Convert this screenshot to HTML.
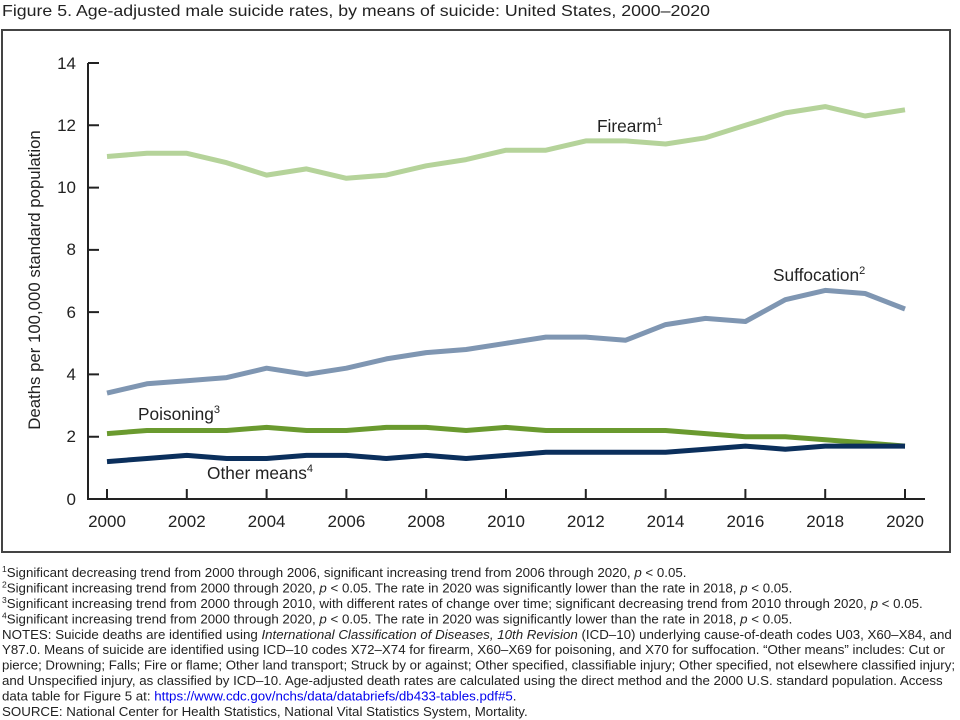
<!DOCTYPE html>
<html><head><meta charset="utf-8"><style>
html,body{margin:0;padding:0;background:#fff;}
svg{display:block;font-family:"Liberation Sans",Arial,sans-serif;}
</style></head><body>
<svg width="960" height="720" viewBox="0 0 960 720" xmlns="http://www.w3.org/2000/svg">
<text x="2" y="16" font-size="16" fill="#222" textLength="708" lengthAdjust="spacingAndGlyphs">Figure 5. Age-adjusted male suicide rates, by means of suicide: United States, 2000–2020</text>
<rect x="2" y="30" width="948" height="522" fill="none" stroke="#444" stroke-width="2"/>
<g stroke="#222" stroke-width="2" fill="none">
<path d="M88 63 V499 H925"/>
<path d="M88 63h11M88 125.3h11M88 187.6h11M88 249.9h11M88 312.1h11M88 374.4h11M88 436.7h11"/>
<path d="M107 499v-10M186.8 499v-10M266.6 499v-10M346.4 499v-10M426.2 499v-10M506 499v-10M585.8 499v-10M665.6 499v-10M745.4 499v-10M825.2 499v-10M905 499v-10"/>
</g>
<g font-size="17" fill="#222" text-anchor="end">
<text x="76" y="69">14</text><text x="76" y="131">12</text><text x="76" y="193">10</text><text x="76" y="255">8</text><text x="76" y="318">6</text><text x="76" y="380">4</text><text x="76" y="442">2</text><text x="76" y="505">0</text>
</g>
<g font-size="17" fill="#222" text-anchor="middle">
<text x="107" y="527">2000</text><text x="186.8" y="527">2002</text><text x="266.6" y="527">2004</text><text x="346.4" y="527">2006</text><text x="426.2" y="527">2008</text><text x="506" y="527">2010</text><text x="585.8" y="527">2012</text><text x="665.6" y="527">2014</text><text x="745.4" y="527">2016</text><text x="825.2" y="527">2018</text><text x="905" y="527">2020</text>
</g>
<text transform="translate(40,280) rotate(-90)" font-size="16.8" fill="#222" text-anchor="middle">Deaths per 100,000 standard population</text>
<g fill="none" stroke-width="5" stroke-linejoin="round">
<polyline stroke="#b5d39a" points="107,156.5 146.9,153.3 186.8,153.3 226.7,162.7 266.6,175.1 306.5,168.9 346.4,178.3 386.3,175.1 426.2,165.8 466.1,159.6 506,150.2 545.9,150.2 585.8,140.9 625.7,140.9 665.6,144 705.5,137.8 745.4,125.3 785.3,112.9 825.2,106.6 865.1,116 905,109.8"/>
<polyline stroke="#7f96b2" points="107,393.1 146.9,383.8 186.8,380.7 226.7,377.6 266.6,368.2 306.5,374.4 346.4,368.2 386.3,358.9 426.2,352.6 466.1,349.5 506,343.3 545.9,337.1 585.8,337.1 625.7,340.2 665.6,324.6 705.5,318.4 745.4,321.5 785.3,299.7 825.2,290.4 865.1,293.5 905,309"/>
<polyline stroke="#6a9a2f" points="107,433.6 146.9,430.5 186.8,430.5 226.7,430.5 266.6,427.4 306.5,430.5 346.4,430.5 386.3,427.4 426.2,427.4 466.1,430.5 506,427.4 545.9,430.5 585.8,430.5 625.7,430.5 665.6,430.5 705.5,433.6 745.4,436.7 785.3,436.7 825.2,439.8 865.1,442.9 905,446.1"/>
<polyline stroke="#0b2f5c" points="107,461.6 146.9,458.5 186.8,455.4 226.7,458.5 266.6,458.5 306.5,455.4 346.4,455.4 386.3,458.5 426.2,455.4 466.1,458.5 506,455.4 545.9,452.3 585.8,452.3 625.7,452.3 665.6,452.3 705.5,449.2 745.4,446.1 785.3,449.2 825.2,446.1 865.1,446.1 905,446.1"/>
</g>
<g font-size="17.3" fill="#222">
<text x="597" y="132">Firearm<tspan font-size="11" dy="-7">1</tspan></text>
<text x="773" y="281">Suffocation<tspan font-size="11" dy="-7">2</tspan></text>
<text x="138" y="420">Poisoning<tspan font-size="11" dy="-7">3</tspan></text>
<text x="207" y="479">Other means<tspan font-size="11" dy="-7">4</tspan></text>
</g>
<g font-size="13.3" fill="#222">
<text x="2" y="577"><tspan font-size="8.5" dy="-5">1</tspan><tspan dy="5">Significant decreasing trend from 2000 through 2006, significant increasing trend from 2006 through 2020, </tspan><tspan font-style="italic">p</tspan> &lt; 0.05.</text>
<text x="2" y="592.4"><tspan font-size="8.5" dy="-5">2</tspan><tspan dy="5">Significant increasing trend from 2000 through 2020, </tspan><tspan font-style="italic">p</tspan> &lt; 0.05. The rate in 2020 was significantly lower than the rate in 2018, <tspan font-style="italic">p</tspan> &lt; 0.05.</text>
<text x="2" y="607.9"><tspan font-size="8.5" dy="-5">3</tspan><tspan dy="5">Significant increasing trend from 2000 through 2010, with different rates of change over time; significant decreasing trend from 2010 through 2020, </tspan><tspan font-style="italic">p</tspan> &lt; 0.05.</text>
<text x="2" y="623.3"><tspan font-size="8.5" dy="-5">4</tspan><tspan dy="5">Significant increasing trend from 2000 through 2020, </tspan><tspan font-style="italic">p</tspan> &lt; 0.05. The rate in 2020 was significantly lower than the rate in 2018, <tspan font-style="italic">p</tspan> &lt; 0.05.</text>
<text x="2" y="638.8">NOTES: Suicide deaths are identified using <tspan font-style="italic">International Classification of Diseases, 10th Revision</tspan> (ICD–10) underlying cause-of-death codes U03, X60–X84, and</text>
<text x="2" y="654.2">Y87.0. Means of suicide are identified using ICD–10 codes X72–X74 for firearm, X60–X69 for poisoning, and X70 for suffocation. “Other means” includes: Cut or</text>
<text x="2" y="669.6" textLength="953" lengthAdjust="spacingAndGlyphs">pierce; Drowning; Falls; Fire or flame; Other land transport; Struck by or against; Other specified, classifiable injury; Other specified, not elsewhere classified injury;</text>
<text x="2" y="685.1">and Unspecified injury, as classified by ICD–10. Age-adjusted death rates are calculated using the direct method and the 2000 U.S. standard population. Access</text>
<text x="2" y="700.5">data table for Figure 5 at: <tspan fill="#0000ee">https://www.cdc.gov/nchs/data/databriefs/db433-tables.pdf#5</tspan>.</text>
<text x="2" y="716">SOURCE: National Center for Health Statistics, National Vital Statistics System, Mortality.</text>
</g>
</svg>
</body></html>
